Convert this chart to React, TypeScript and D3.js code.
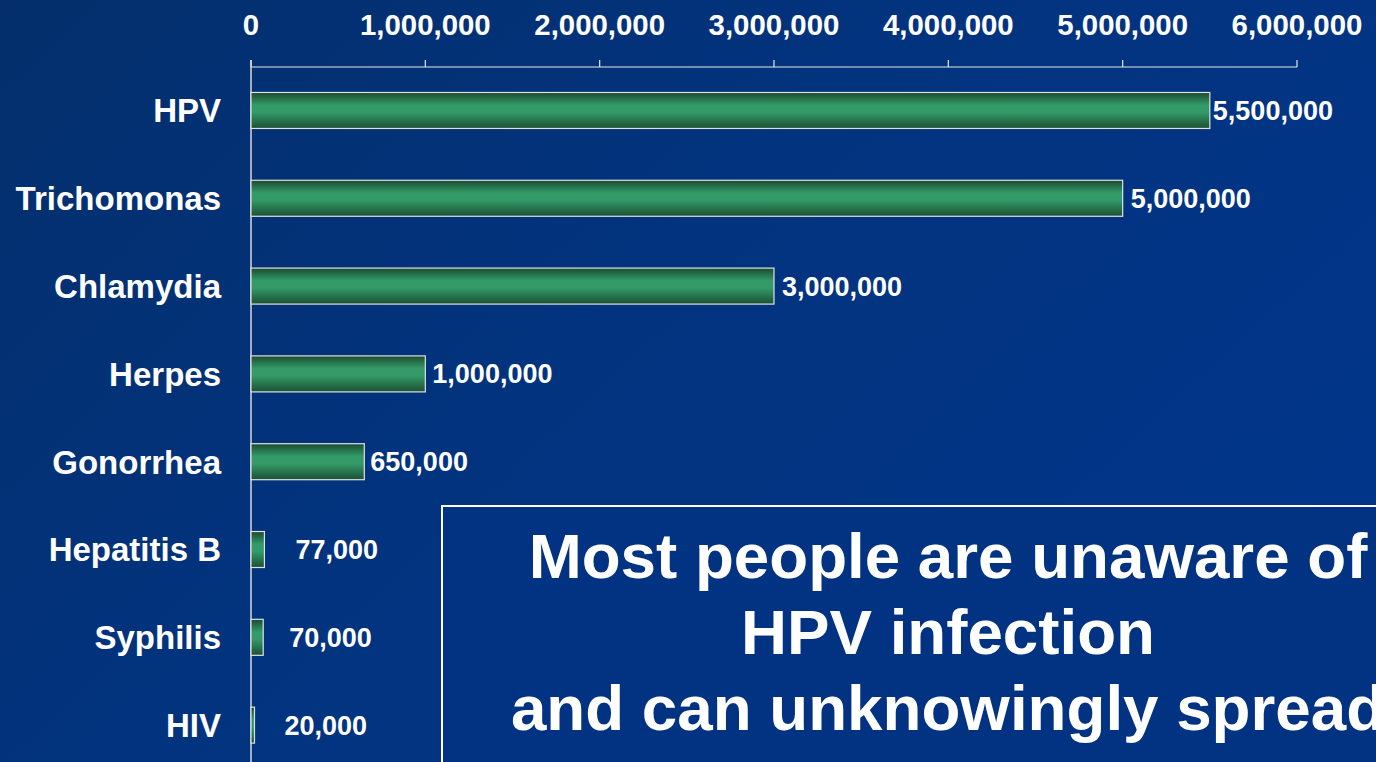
import React from "react";
import * as d3 from "d3";

const categories = ["HPV", "Trichomonas", "Chlamydia", "Herpes", "Gonorrhea", "Hepatitis B", "Syphilis", "HIV"];
const cases = [5500000, 5000000, 3000000, 1000000, 650000, 77000, 70000, 20000];
const tickValues = [0, 1000000, 2000000, 3000000, 4000000, 5000000, 6000000];
const labelGap = [3, 8, 8, 7, 6, 31, 26, 30];
const noteLines = ["Most people are unaware of", "HPV infection", "and can unknowingly spread"];

const W = 1376;
const H = 762;
const FONT = "'Liberation Sans', Arial, Helvetica, sans-serif";

export default function App() {
  const x = d3.scaleLinear().domain([0, 6000000]).range([251, 1297]);
  const y = d3
    .scaleBand<string>()
    .domain(categories)
    .range([67, 67 + 87.7 * categories.length])
    .paddingInner(0.59)
    .paddingOuter(0.29);
  const fmt = d3.format(",");
  const bw = y.bandwidth();

  return (
    <svg
      width={W}
      height={H}
      style={{ position: "absolute", left: 0, top: 0, display: "block" }}
      fontFamily={FONT}
    >
      <defs>
        <linearGradient id="bg" x1="0" y1="0" x2="1" y2="0.6">
          <stop offset="0" stopColor="#042f6c" />
          <stop offset="0.5" stopColor="#02337e" />
          <stop offset="1" stopColor="#013589" />
        </linearGradient>
        <linearGradient id="bar" x1="0" y1="0" x2="0" y2="1">
          <stop offset="0" stopColor="#1a4a30" />
          <stop offset="0.35" stopColor="#339a68" />
          <stop offset="0.55" stopColor="#339a68" />
          <stop offset="1" stopColor="#1b5034" />
        </linearGradient>
      </defs>
      <rect x={0} y={0} width={W} height={H} fill="url(#bg)" />

      {/* top axis */}
      <line x1={x(0)} x2={x(6000000)} y1={67} y2={67} stroke="#e8e8e8" strokeWidth={1.2} />
      {tickValues.map((t) => (
        <g key={t}>
          <line x1={x(t)} x2={x(t)} y1={60} y2={67} stroke="#e8e8e8" strokeWidth={1.2} />
          <text
            x={x(t)}
            y={35}
            textAnchor="middle"
            fill="#ffffff"
            fontWeight="bold"
            fontSize={29.4}
          >
            {fmt(t)}
          </text>
        </g>
      ))}
      <line x1={x(0)} x2={x(0)} y1={60} y2={H} stroke="#d8d8d8" strokeWidth={1.5} />

      {/* bars */}
      {categories.map((c, i) => {
        const yy = y(c)!;
        const x1 = x(cases[i]);
        return (
          <g key={c}>
            <rect
              x={x(0)}
              y={yy}
              width={x1 - x(0)}
              height={bw}
              fill="url(#bar)"
              stroke="#e0e0e0"
              strokeWidth={1.2}
            />
            <text
              x={221}
              y={yy + bw / 2}
              dy="0.36em"
              textAnchor="end"
              fill="#ffffff"
              fontWeight="bold"
              fontSize={33}
            >
              {c}
            </text>
            <text
              x={x1 + labelGap[i]}
              y={yy + bw / 2}
              dy="0.35em"
              textAnchor="start"
              fill="#ffffff"
              fontWeight="bold"
              fontSize={27}
            >
              {fmt(cases[i])}
            </text>
          </g>
        );
      })}

      {/* annotation box */}
      <rect x={442} y={506} width={1000} height={400} fill="#023282" stroke="#ffffff" strokeWidth={2} />
      {noteLines.map((l, i) => (
        <text
          key={i}
          x={948}
          y={578 + i * 76}
          textAnchor="middle"
          fill="#ffffff"
          fontWeight="bold"
          fontSize={63.7}
        >
          {l}
        </text>
      ))}
    </svg>
  );
}
